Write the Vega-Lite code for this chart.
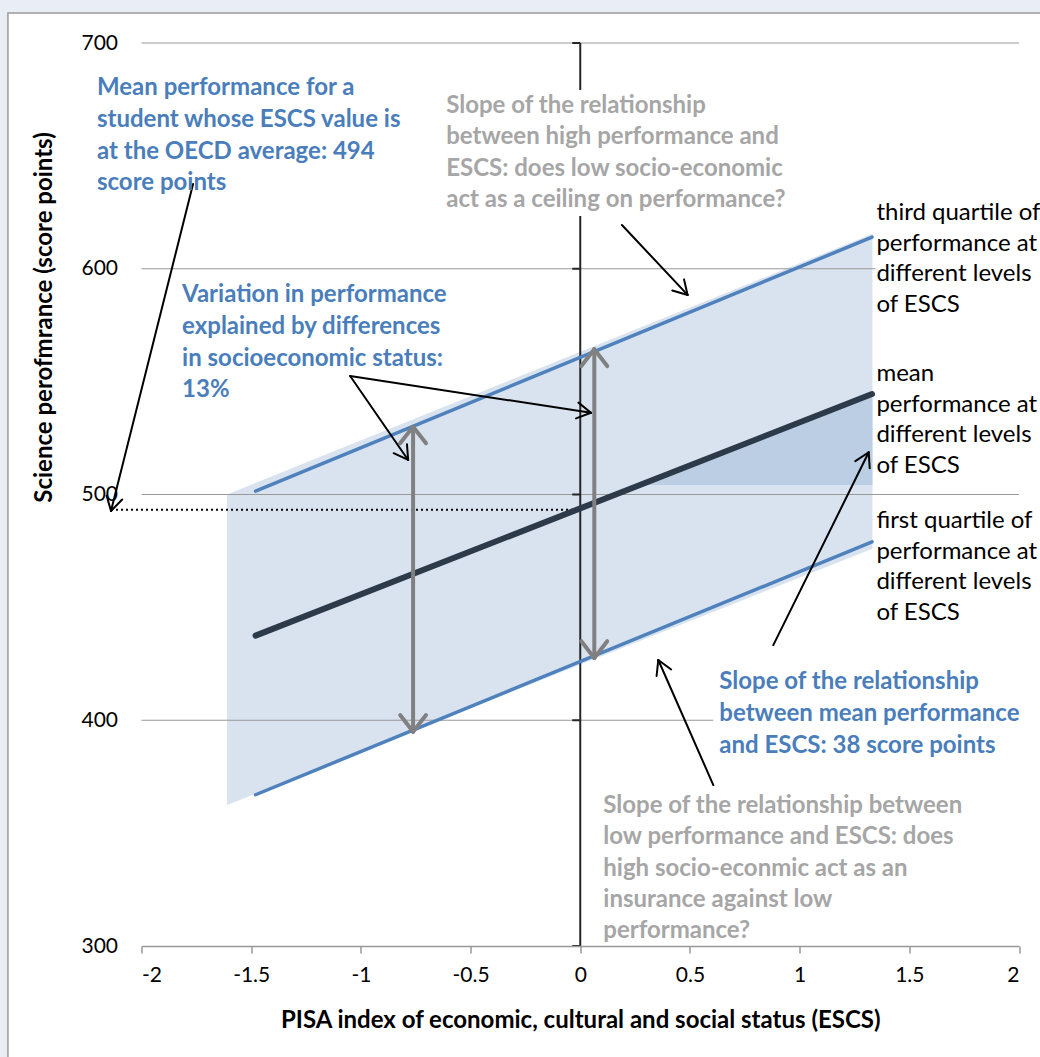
{
  "$schema": "https://vega.github.io/schema/vega-lite/v6.json",
  "autosize": {"type": "none"},
  "width": 877.5,
  "height": 903,
  "padding": {"left": 141.5, "top": 43, "right": 21.5, "bottom": 111},
  "background": "#e9edf6",
  "config": {"view": {"stroke": null}, "font": "Lato"},
  "datasets": {
    "frame": [{"x": -2.6089, "x2": 2.6, "y": 713.3, "y2": 230}],
    "gridlines": [
      {"x1": -2, "x2": 2, "y": 400},
      {"x1": -2, "x2": 2, "y": 500},
      {"x1": -2, "x2": 2, "y": 600},
      {"x1": -2, "x2": 2, "y": 700}
    ],
    "band": [{"x": -1.61, "top": 500, "bottom": 362.5}, {"x": 1.332, "top": 615.5, "bottom": 476}],
    "wedge": [{"x": 0.27, "y": 504.2, "base": 504.2}, {"x": 1.332, "y": 543.6, "base": 504.2}],
    "quartiles": [
      {"s": "third quartile", "x": -1.48, "y": 501.5}, {"s": "third quartile", "x": 1.33, "y": 614},
      {"s": "first quartile", "x": -1.48, "y": 367}, {"s": "first quartile", "x": 1.33, "y": 479}
    ],
    "mean": [{"x": -1.48, "y": 437.5}, {"x": 1.33, "y": 544.5}],
    "dotted": [{"x1": -2.139, "y1": 493.3, "x2": 0, "y2": 493.3}],
    "vaxis": [
      {"x1": 0, "y1": 300, "x2": 0, "y2": 700},
      {"x1": -0.0365, "y1": 300, "x2": 0, "y2": 300},
      {"x1": -0.0365, "y1": 400, "x2": 0, "y2": 400},
      {"x1": -0.0365, "y1": 500, "x2": 0, "y2": 500},
      {"x1": -0.0365, "y1": 600, "x2": 0, "y2": 600},
      {"x1": -0.0365, "y1": 700, "x2": 0, "y2": 700}
    ],
    "grayArrows": [
      {"x1": -0.762, "y1": 530.0, "x2": -0.762, "y2": 394.9},
      {"x1": -0.821, "y1": 522.7, "x2": -0.762, "y2": 530.0},
      {"x1": -0.703, "y1": 522.7, "x2": -0.762, "y2": 530.0},
      {"x1": -0.821, "y1": 402.3, "x2": -0.762, "y2": 394.9},
      {"x1": -0.703, "y1": 402.3, "x2": -0.762, "y2": 394.9},
      {"x1": 0.064, "y1": 564.3, "x2": 0.064, "y2": 427.6},
      {"x1": 0.005, "y1": 556.9, "x2": 0.064, "y2": 564.3},
      {"x1": 0.123, "y1": 556.9, "x2": 0.064, "y2": 564.3},
      {"x1": 0.005, "y1": 435.0, "x2": 0.064, "y2": 427.6},
      {"x1": 0.123, "y1": 435.0, "x2": 0.064, "y2": 427.6}
    ],
    "textBoxes": [
      {"x1": -0.6385, "x2": 0.9806, "y1": 679.2, "y2": 623.4},
      {"x1": 1.3455, "x2": 2.2, "y1": 631.8, "y2": 577.3},
      {"x1": 0.6066, "x2": 2.2, "y1": 424.0, "y2": 382.4}
    ],
    "blackArrows": [
      {"x1": -1.765, "y1": 637.5, "x2": -2.139, "y2": 492.7},
      {"x1": -2.088, "y1": 497.8, "x2": -2.139, "y2": 492.7},
      {"x1": -2.159, "y1": 499.5, "x2": -2.139, "y2": 492.7},
      {"x1": -1.049, "y1": 552.5, "x2": -0.7845, "y2": 515.3},
      {"x1": -0.790, "y1": 522.3, "x2": -0.7845, "y2": 515.3},
      {"x1": -0.8506, "y1": 518.3, "x2": -0.7845, "y2": 515.3},
      {"x1": -1.049, "y1": 552.5, "x2": 0.0488, "y2": 536.2},
      {"x1": -0.0082, "y1": 540.7, "x2": 0.0488, "y2": 536.2},
      {"x1": -0.0192, "y1": 533.7, "x2": 0.0488, "y2": 536.2},
      {"x1": 0.190, "y1": 619.4, "x2": 0.4894, "y2": 588.4},
      {"x1": 0.473, "y1": 595.3, "x2": 0.4894, "y2": 588.4},
      {"x1": 0.4196, "y1": 590.4, "x2": 0.4894, "y2": 588.4},
      {"x1": 0.880, "y1": 433.3, "x2": 1.315, "y2": 518.7},
      {"x1": 1.254, "y1": 514.8, "x2": 1.315, "y2": 518.7},
      {"x1": 1.3195, "y1": 511.6, "x2": 1.315, "y2": 518.7},
      {"x1": 0.6066, "y1": 371.3, "x2": 0.3558, "y2": 426.7},
      {"x1": 0.348, "y1": 419.6, "x2": 0.3558, "y2": 426.7},
      {"x1": 0.4146, "y1": 422.5, "x2": 0.3558, "y2": 426.7}
    ],
    "blueText": [
      {"x": -2.203, "y": 680.1, "t": "Mean performance for a\nstudent whose ESCS value is\nat the OECD average:  494\nscore points"},
      {"x": -1.815, "y": 588.4, "t": "Variation in performance\nexplained by differences\nin socioeconomic status:\n13%"},
      {"x": 0.634, "y": 416.9, "t": "Slope of the relationship\nbetween mean performance\nand ESCS: 38 score points"}
    ],
    "grayText": [
      {"x": -0.611, "y": 672.1, "t": "Slope of the relationship\nbetween high performance and\nESCS: does low socio-economic\nact as a ceiling  on performance?"},
      {"x": 0.105, "y": 362.0, "t": "Slope of the relationship between\nlow performance and ESCS: does\nhigh socio-econmic act as an\ninsurance against low\nperformance?"}
    ],
    "blackText": [
      {"x": 1.35, "y": 624.7, "t": "third quartile of\nperformance at\ndifferent levels\nof ESCS"},
      {"x": 1.35, "y": 553.4, "t": "mean\nperformance at\ndifferent levels\nof ESCS"},
      {"x": 1.35, "y": 488.3, "t": "first quartile of\nperformance at\ndifferent levels\nof ESCS"}
    ]
  },
  "layer": [
    {
      "data": {"name": "frame"},
      "mark": {"type": "rect", "fill": "#ffffff", "stroke": "#9a9a9a", "strokeWidth": 1.5},
      "encoding": {
        "x": {"field": "x", "type": "quantitative",
          "scale": {"domain": [-2, 2], "nice": false, "zero": false},
          "axis": {
            "values": [-2, -1.5, -1, -0.5, 0, 0.5, 1, 1.5, 2],
            "labelExpr": "'' + datum.value",
            "grid": false, "domainColor": "#999999", "domainWidth": 1.5, "tickColor": "#999999", "tickWidth": 1.5, "tickSize": 7,
            "labelFont": "Lato", "labelFontSize": 21, "labelColor": "#000000", "labelPadding": 11,
            "title": "PISA index of economic, cultural and social status (ESCS)",
            "titleFont": "Lato", "titleFontSize": 24, "titleFontWeight": "bold", "titleColor": "#000000",
            "titleY": 74, "titleBaseline": "middle", "zindex": 1
          }},
        "x2": {"field": "x2"},
        "y": {"field": "y", "type": "quantitative",
          "scale": {"domain": [300, 700], "nice": false, "zero": false},
          "axis": {
            "values": [300, 400, 500, 600, 700],
            "grid": false, "domain": false, "ticks": false,
            "labelFont": "Lato", "labelFontSize": 21, "labelColor": "#000000", "labelPadding": 24,
            "title": "Science perofmrance (score points)",
            "titleFont": "Lato", "titleFontSize": 24, "titleFontWeight": "bold", "titleColor": "#000000",
            "titleX": -97.5, "titleY": 274, "titleAngle": 270, "titleAlign": "center", "titleBaseline": "middle", "zindex": 1
          }},
        "y2": {"field": "y2"}
      }
    },
    {
      "data": {"name": "band"},
      "mark": {"type": "area", "color": "#d9e3f0", "opacity": 1},
      "encoding": {
        "x": {"field": "x", "type": "quantitative"},
        "y": {"field": "top", "type": "quantitative"},
        "y2": {"field": "bottom"}
      }
    },
    {
      "data": {"name": "wedge"},
      "mark": {"type": "area", "color": "#bccee4", "opacity": 1},
      "encoding": {
        "x": {"field": "x", "type": "quantitative"},
        "y": {"field": "y", "type": "quantitative"},
        "y2": {"field": "base"}
      }
    },
    {
      "data": {"name": "gridlines"},
      "mark": {"type": "rule", "color": "#999999", "strokeWidth": 1.2},
      "encoding": {
        "x": {"field": "x1", "type": "quantitative"}, "x2": {"field": "x2"},
        "y": {"field": "y", "type": "quantitative"}
      }
    },
    {
      "data": {"name": "dotted"},
      "mark": {"type": "rule", "color": "#000000", "strokeWidth": 2, "strokeDash": [2, 3]},
      "encoding": {
        "x": {"field": "x1", "type": "quantitative"}, "x2": {"field": "x2"},
        "y": {"field": "y1", "type": "quantitative"}, "y2": {"field": "y2"}
      }
    },
    {
      "data": {"name": "vaxis"},
      "mark": {"type": "rule", "color": "#262626", "strokeWidth": 2},
      "encoding": {
        "x": {"field": "x1", "type": "quantitative"}, "x2": {"field": "x2"},
        "y": {"field": "y1", "type": "quantitative"}, "y2": {"field": "y2"}
      }
    },
    {
      "data": {"name": "quartiles"},
      "mark": {"type": "line", "color": "#4f81bd", "strokeWidth": 3.5, "strokeCap": "round"},
      "encoding": {
        "x": {"field": "x", "type": "quantitative"},
        "y": {"field": "y", "type": "quantitative"},
        "detail": {"field": "s", "type": "nominal"}
      }
    },
    {
      "data": {"name": "mean"},
      "mark": {"type": "line", "color": "#2c3a4a", "strokeWidth": 6, "strokeCap": "round"},
      "encoding": {
        "x": {"field": "x", "type": "quantitative"},
        "y": {"field": "y", "type": "quantitative"}
      }
    },
    {
      "data": {"name": "grayArrows"},
      "mark": {"type": "rule", "color": "#808080", "strokeWidth": 4, "strokeCap": "round"},
      "encoding": {
        "x": {"field": "x1", "type": "quantitative"}, "x2": {"field": "x2"},
        "y": {"field": "y1", "type": "quantitative"}, "y2": {"field": "y2"}
      }
    },
    {
      "data": {"name": "textBoxes"},
      "mark": {"type": "rect", "fill": "#ffffff", "strokeWidth": 0},
      "encoding": {
        "x": {"field": "x1", "type": "quantitative"}, "x2": {"field": "x2"},
        "y": {"field": "y1", "type": "quantitative"}, "y2": {"field": "y2"}
      }
    },
    {
      "data": {"name": "blackArrows"},
      "mark": {"type": "rule", "color": "#000000", "strokeWidth": 2, "strokeCap": "round"},
      "encoding": {
        "x": {"field": "x1", "type": "quantitative"}, "x2": {"field": "x2"},
        "y": {"field": "y1", "type": "quantitative"}, "y2": {"field": "y2"}
      }
    },
    {
      "data": {"name": "blueText"},
      "mark": {"type": "text", "align": "left", "baseline": "middle", "lineBreak": "\n", "lineHeight": 31.8, "font": "Lato", "fontSize": 24, "fontWeight": "bold", "color": "#4a7ebb"},
      "encoding": {
        "x": {"field": "x", "type": "quantitative"},
        "y": {"field": "y", "type": "quantitative"},
        "text": {"field": "t"}
      }
    },
    {
      "data": {"name": "grayText"},
      "mark": {"type": "text", "align": "left", "baseline": "middle", "lineBreak": "\n", "lineHeight": 31.3, "font": "Lato", "fontSize": 24, "fontWeight": "bold", "color": "#a6a6a6"},
      "encoding": {
        "x": {"field": "x", "type": "quantitative"},
        "y": {"field": "y", "type": "quantitative"},
        "text": {"field": "t"}
      }
    },
    {
      "data": {"name": "blackText"},
      "mark": {"type": "text", "align": "left", "baseline": "middle", "lineBreak": "\n", "lineHeight": 30.7, "font": "Lato", "fontSize": 24, "color": "#000000"},
      "encoding": {
        "x": {"field": "x", "type": "quantitative"},
        "y": {"field": "y", "type": "quantitative"},
        "text": {"field": "t"}
      }
    }
  ]
}
